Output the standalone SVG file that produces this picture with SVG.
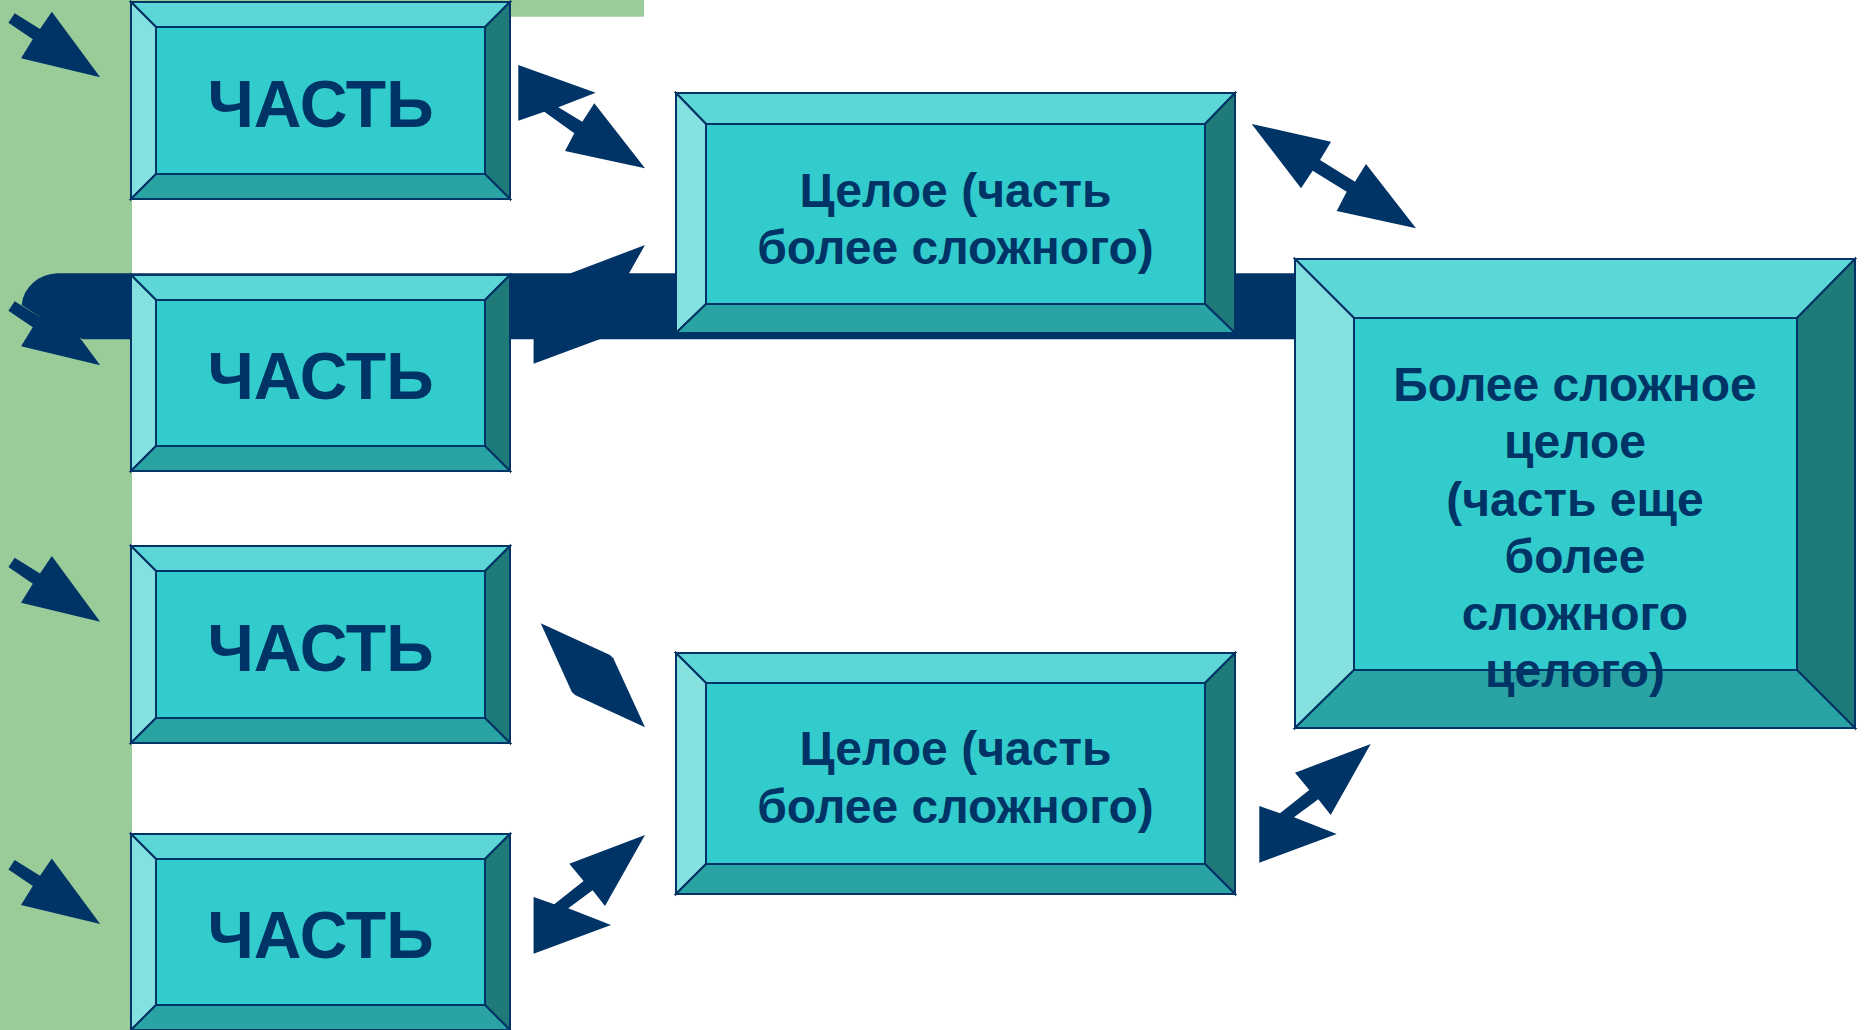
<svg xmlns="http://www.w3.org/2000/svg" xmlns:xlink="http://www.w3.org/1999/xlink" width="1865" height="1030" viewBox="0 0 1865 1030">
<style>
.bg{fill:#99CC99}
.face{fill:#33CCCC;stroke:#003366;stroke-width:2}
.bt{fill:#5CD6D6;stroke:#003366;stroke-width:2;stroke-linejoin:miter}
.bl{fill:#85E0E0;stroke:#003366;stroke-width:2}
.br{fill:#1F7A7A;stroke:#003366;stroke-width:2}
.bb{fill:#29A3A3;stroke:#003366;stroke-width:2}
.arr{fill:#003366;stroke:none}
.t1{font-family:"Liberation Sans",Arial,sans-serif;font-weight:bold;font-size:66px;fill:#003366;text-anchor:middle}
.t2{font-family:"Liberation Sans",Arial,sans-serif;font-weight:bold;font-size:48px;fill:#003366;text-anchor:middle}
</style>
<defs>
<polygon id="inArrow" class="arr" points="14.7,13.3 40,29 51.8,11.7 100.2,77.3 21,58.3 32.8,39.3 8.4,22.7"/>
<polygon id="dblUp" class="arr" points="0,0 -75.7,28.7 -61.4,46 -90.7,69.3 -111.4,62 -111.4,118.7 -34,90 -76.7,73.3 -52.4,55.3 -40,71"/>
</defs>
<rect width="1865" height="1030" fill="#FFFFFF"/>
<g id="background">
<rect class="bg" x="0" y="0" width="132" height="1030"/>
<rect class="bg" x="0" y="0" width="644" height="16.7"/>
</g>
<g id="connectors">
<path class="arr" d="M1296,273.3 H58 A37,34 0 0 0 21.7,305 L40,317 L82.7,339.3 H1296 Z"/>
<use xlink:href="#inArrow" href="#inArrow" x="0" y="0"/>
<use xlink:href="#inArrow" href="#inArrow" x="0" y="288"/>
<use xlink:href="#inArrow" href="#inArrow" x="0" y="544.4"/>
<use xlink:href="#inArrow" href="#inArrow" x="0" y="846.7"/>
<polygon class="arr" points="518.3,65 595.7,92.7 558.3,107.3 582.3,121.7 594.3,103.3 645,168.3 565,151 574.3,133.3 544.3,111.7 518.3,120.7"/>
<polygon class="arr" points="1251.7,124 1331,141.7 1320,160 1355,181.7 1366,164 1416,228.3 1336.7,211 1346.7,191.7 1312.7,170.7 1301,188.3"/>
<use xlink:href="#dblUp" href="#dblUp" x="645" y="245"/>
<polygon class="arr" points="540.7,623.3 610,655 613.3,658.3 645,727.3 575,695 571.7,691.7"/>
<use xlink:href="#dblUp" href="#dblUp" x="645" y="835"/>
<use xlink:href="#dblUp" href="#dblUp" x="1370.7" y="744"/>
</g>
<g id="part1">
<polygon class="bt" points="131,2 510,2 485,27 156,27"/>
<polygon class="bl" points="131,2 156,27 156,174 131,199"/>
<polygon class="br" points="510,2 510,199 485,174 485,27"/>
<polygon class="bb" points="131,199 156,174 485,174 510,199"/>
<rect class="face" x="156" y="27" width="329" height="147"/>
<text class="t1" x="320.5" y="127">ЧАСТЬ</text>
</g>
<g id="part2">
<polygon class="bt" points="131,275 510,275 485,300 156,300"/>
<polygon class="bl" points="131,275 156,300 156,446 131,471"/>
<polygon class="br" points="510,275 510,471 485,446 485,300"/>
<polygon class="bb" points="131,471 156,446 485,446 510,471"/>
<rect class="face" x="156" y="300" width="329" height="146"/>
<text class="t1" x="320.5" y="399">ЧАСТЬ</text>
</g>
<g id="part3">
<polygon class="bt" points="131,546 510,546 485,571 156,571"/>
<polygon class="bl" points="131,546 156,571 156,718 131,743"/>
<polygon class="br" points="510,546 510,743 485,718 485,571"/>
<polygon class="bb" points="131,743 156,718 485,718 510,743"/>
<rect class="face" x="156" y="571" width="329" height="147"/>
<text class="t1" x="320.5" y="671">ЧАСТЬ</text>
</g>
<g id="part4">
<polygon class="bt" points="131,834 510,834 485,859 156,859"/>
<polygon class="bl" points="131,834 156,859 156,1005 131,1030"/>
<polygon class="br" points="510,834 510,1030 485,1005 485,859"/>
<polygon class="bb" points="131,1030 156,1005 485,1005 510,1030"/>
<rect class="face" x="156" y="859" width="329" height="146"/>
<text class="t1" x="320.5" y="958">ЧАСТЬ</text>
</g>
<g id="whole1">
<polygon class="bt" points="676,93 1235,93 1205,124 706,124"/>
<polygon class="bl" points="676,93 706,124 706,304 676,333"/>
<polygon class="br" points="1235,93 1235,333 1205,304 1205,124"/>
<polygon class="bb" points="676,333 706,304 1205,304 1235,333"/>
<rect class="face" x="706" y="124" width="499" height="180"/>
<text class="t2" x="955.5" y="206.5">Целое (часть</text>
<text class="t2" x="955.5" y="263.5">более сложного)</text>
</g>
<g id="whole2">
<polygon class="bt" points="676,653 1235,653 1205,683 706,683"/>
<polygon class="bl" points="676,653 706,683 706,864 676,894"/>
<polygon class="br" points="1235,653 1235,894 1205,864 1205,683"/>
<polygon class="bb" points="676,894 706,864 1205,864 1235,894"/>
<rect class="face" x="706" y="683" width="499" height="181"/>
<text class="t2" x="955.5" y="765">Целое (часть</text>
<text class="t2" x="955.5" y="822.5">более сложного)</text>
</g>
<g id="complexWhole">
<polygon class="bt" points="1295,259 1855,259 1797,318 1354,318"/>
<polygon class="bl" points="1295,259 1354,318 1354,670 1295,728"/>
<polygon class="br" points="1855,259 1855,728 1797,670 1797,318"/>
<polygon class="bb" points="1295,728 1354,670 1797,670 1855,728"/>
<rect class="face" x="1354" y="318" width="443" height="352"/>
<text class="t2" x="1575" y="401">Более сложное</text>
<text class="t2" x="1575" y="458">целое</text>
<text class="t2" x="1575" y="515.5">(часть еще</text>
<text class="t2" x="1575" y="572.5">более</text>
<text class="t2" x="1575" y="630">сложного</text>
<text class="t2" x="1575" y="687">целого)</text>
</g>
</svg>
